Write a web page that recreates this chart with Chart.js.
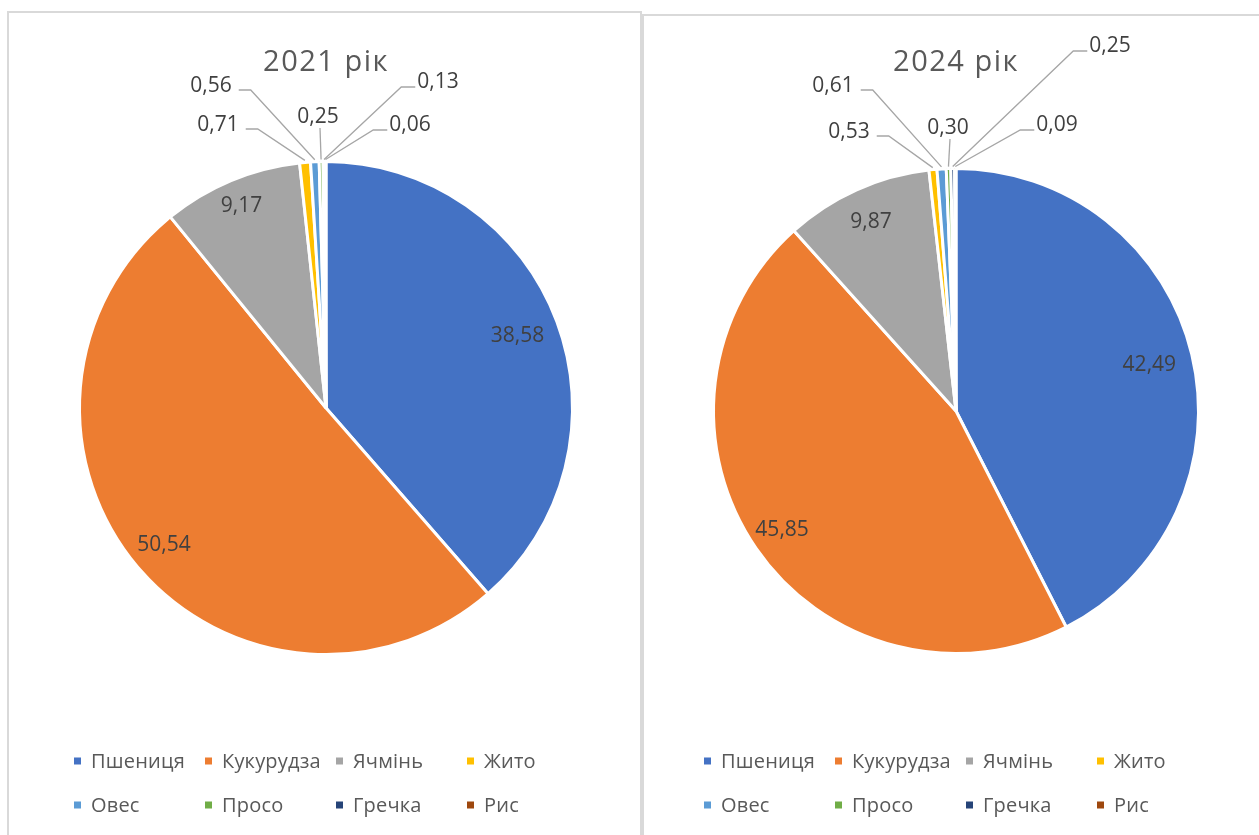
<!DOCTYPE html>
<html><head><meta charset="utf-8">
<script src="https://cdn.jsdelivr.net/npm/chart.js@4"></script>
<style>
html,body{margin:0;padding:0;background:#fff;width:1259px;height:835px;overflow:hidden}
.panel{position:absolute;border:2px solid #d9d9d9;box-sizing:border-box}
#p1{left:7px;top:11px;width:635px;height:900px}
#p2{left:642px;top:14px;width:700px;height:900px}
canvas{position:absolute;top:0}
#c1{left:0}
#c2{left:642px}
</style></head>
<body>
<div class="panel" id="p1"></div>
<div class="panel" id="p2"></div>
<canvas id="c1" width="642" height="835" style="width:642px;height:835px"></canvas>
<canvas id="c2" width="617" height="835" style="width:617px;height:835px"></canvas>
<script>
const categories = ['Пшениця','Кукурудза','Ячмінь','Жито','Овес','Просо','Гречка','Рис'];
const values2021 = [38.58, 50.54, 9.17, 0.71, 0.56, 0.25, 0.13, 0.06];
const values2024 = [42.49, 45.85, 9.87, 0.53, 0.61, 0.30, 0.25, 0.09];
const colors = ['#4472C4','#ED7D31','#A5A5A5','#FFC000','#5B9BD5','#70AD47','#264478','#9E480E'];
const titles = ['2021 рік', '2024 рік'];

// placement of inside labels (fraction of radius) and outside labels (offset from pie centre)
const inner2021 = [0.83, 0.86, 0.89];
const inner2024 = [0.82, 0.87, 0.855];
const outer2021 = {3:{dx:-108,dy:-283,side:'left'},4:{dx:-115,dy:-322,side:'left'},5:{dx:-8,dy:-291,side:'top'},6:{dx:112,dy:-326,side:'right'},7:{dx:84,dy:-283,side:'right'}};
const outer2024 = {3:{dx:-107,dy:-279,side:'left'},4:{dx:-123,dy:-325,side:'left'},5:{dx:-8,dy:-283,side:'top'},6:{dx:154,dy:-365,side:'right'},7:{dx:101,dy:-286,side:'right'}};

function fmt(v){ return v.toFixed(2).replace('.', ','); }

const decor = {
  id: 'decor',
  afterDatasetsDraw(chart, args, opts) {
    const ctx = chart.ctx;
    const meta = chart.getDatasetMeta(0);
    const a0 = meta.data[0];
    const cx = a0.x, cy = a0.y, R = a0.outerRadius;
    const ds = chart.data.datasets[0];
    ctx.save();
    // title
    ctx.fillStyle = '#595959';
    ctx.font = '29px "Open Sans"';
    ctx.textAlign = 'center';
    ctx.textBaseline = 'alphabetic';
    try { ctx.letterSpacing = '1.5px'; } catch(e) {}
    ctx.fillText(opts.title, cx, 71);
    // data labels
    try { ctx.letterSpacing = '0px'; } catch(e) {}
    ctx.font = '21px "Open Sans"';
    ctx.textBaseline = 'middle';
    meta.data.forEach((arc, i) => {
      const v = ds.data[i];
      const mid = (arc.startAngle + arc.endAngle) / 2;
      const txt = fmt(v);
      const o = opts.outer[i];
      if (!o) {
        const r = R * opts.inner[i];
        ctx.fillStyle = '#404040';
        ctx.textAlign = 'center';
        ctx.fillText(txt, cx + Math.cos(mid) * r, cy + Math.sin(mid) * r);
        return;
      }
      const tx = cx + o.dx, ty = cy + o.dy;
      const w = ctx.measureText(txt).width;
      const ex = cx + Math.cos(mid) * (R + 2), ey = cy + Math.sin(mid) * (R + 2);
      ctx.strokeStyle = '#a6a6a6';
      ctx.lineWidth = 1.3;
      ctx.beginPath();
      if (o.side === 'left') {
        const x1 = tx + w / 2 + 7, y1 = ty + 4;
        ctx.moveTo(x1, y1); ctx.lineTo(x1 + 12, y1); ctx.lineTo(ex, ey);
      } else if (o.side === 'right') {
        const x1 = tx - w / 2 - 2, y1 = ty + 5;
        ctx.moveTo(x1, y1); ctx.lineTo(x1 - 14, y1); ctx.lineTo(ex, ey);
      } else {
        ctx.moveTo(tx + 2, ty + 11); ctx.lineTo(ex, ey);
      }
      ctx.stroke();
      ctx.fillStyle = '#404040';
      ctx.textAlign = 'center';
      ctx.fillText(txt, tx, ty);
    });
    // legend
    ctx.font = '20px "Open Sans"';
    try { ctx.letterSpacing = '0.2px'; } catch(e) {}
    ctx.textAlign = 'left';
    ctx.textBaseline = 'middle';
    chart.data.labels.forEach((lab, i) => {
      const col = i % 4, row = Math.floor(i / 4);
      const sx = cx - 252 + col * 131;
      const sy = 761 + row * 44;
      ctx.fillStyle = ds.backgroundColor[i];
      ctx.fillRect(sx, sy - 3.5, 7, 7);
      ctx.fillStyle = '#595959';
      ctx.fillText(lab, sx + 17, sy + 1);
    });
    ctx.restore();
  }
};

function makePie(id, values, title, inner, outer, padding) {
  return new Chart(document.getElementById(id), {
    type: 'pie',
    data: {
      labels: categories,
      datasets: [{
        data: values,
        backgroundColor: colors,
        borderColor: '#ffffff',
        borderWidth: 3,
        hoverOffset: 0,
        offset: 0
      }]
    },
    options: {
      responsive: false,
      animation: false,
      events: [],
      layout: { padding: padding },
      plugins: {
        legend: { display: false },
        tooltip: { enabled: false },
        title: { display: false },
        decor: { title: title, inner: inner, outer: outer }
      }
    },
    plugins: [decor]
  });
}

makePie('c1', values2021, titles[0], inner2021, outer2021, {left: 78, right: 68, top: 160, bottom: 179});
makePie('c2', values2024, titles[1], inner2024, outer2024, {left: 70, right: 59, top: 167, bottom: 180});
</script>
</body></html>
